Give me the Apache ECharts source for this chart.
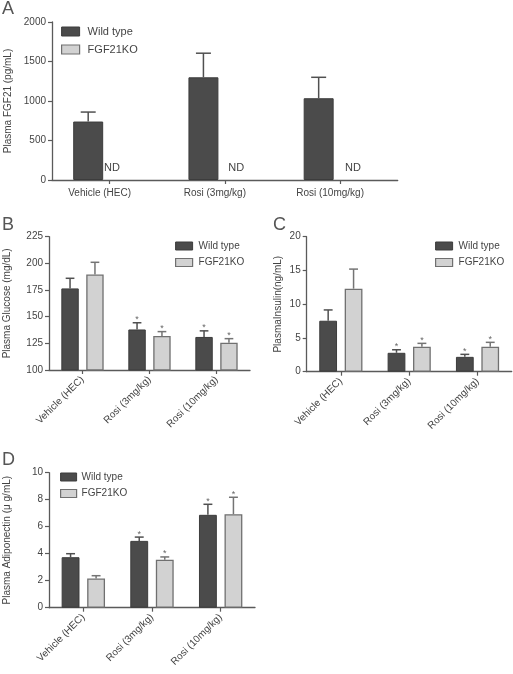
<!DOCTYPE html>
<html>
<head>
<meta charset="utf-8">
<script src="https://cdn.jsdelivr.net/npm/echarts@6/dist/echarts.min.js"></script>
<style>html,body{margin:0;padding:0;background:#fff;}#c{width:513px;height:674px;}</style>
</head>
<body>
<div id="c"></div>
<script>
const categories = ['Vehicle (HEC)', 'Rosi (3mg/kg)', 'Rosi (10mg/kg)'];
const seriesNames = ['Wild type', 'FGF21KO'];

// Panel A: plasma FGF21 (pg/mL); FGF21KO not detected
const fgf21WT = [740, 1300, 1035];
const fgf21WTErr = [120, 305, 265];
const fgf21KOLabel = ['ND', 'ND', 'ND'];

// Panel B: plasma glucose (mg/dL)
const glucoseWT = [176.5, 138, 131];
const glucoseWTErr = [9.5, 6.3, 5.7];
const glucoseKO = [189.5, 132, 125.6];
const glucoseKOErr = [11.5, 4, 3.8];

// Panel C: plasma insulin (ng/mL)
const insulinWT = [7.55, 2.8, 2.2];
const insulinWTErr = [1.6, 0.45, 0.37];
const insulinKO = [12.3, 3.7, 3.7];
const insulinKOErr = [2.9, 0.5, 0.65];

// Panel D: plasma adiponectin (µg/mL)
const adipoWT = [3.74, 4.95, 6.88];
const adipoWTErr = [0.26, 0.28, 0.78];
const adipoKO = [2.17, 3.56, 6.93];
const adipoKOErr = [0.2, 0.2, 1.25];

// significance markers (*) per category
const significant = [false, true, true];

// tick settings
const yA = {min: 0, max: 2000, interval: 500};
const yB = {min: 100, max: 225, interval: 25};
const yC = {min: 0, max: 20, interval: 5};
const yD = {min: 0, max: 10, interval: 2};

const FONT = 'Liberation Sans, Arial, sans-serif';
const AXIS_COLOR = '#5a5a5a';
const TEXT_COLOR = '#444';
const WT_STYLE = {color: '#4b4b4b', borderColor: '#3c3c3c', borderWidth: 1};
const KO_STYLE = {color: '#d2d2d2', borderColor: '#707070', borderWidth: 1.3};
const BAR_W = 0.26, BAR_GAP = 0.43;

const chart = echarts.init(document.getElementById('c'), null, {renderer: 'canvas'});

function xAxisFor(gi, rotate) {
  return {
    type: 'category', gridIndex: gi, data: categories,
    axisLine: {lineStyle: {color: AXIS_COLOR, width: 1.3}},
    axisTick: {show: true, alignWithLabel: true, length: 4, lineStyle: {color: AXIS_COLOR, width: 1.2}},
    axisLabel: rotate ? {rotate: 45, fontSize: 10, color: TEXT_COLOR, fontFamily: FONT, margin: 8, interval: 0}
                      : {fontSize: 10, color: TEXT_COLOR, fontFamily: FONT, margin: 8, interval: 0, padding: [0, 20, 0, 0]}
  };
}
function yAxisFor(gi, r, name, gap) {
  return {
    type: 'value', gridIndex: gi, min: r.min, max: r.max, interval: r.interval,
    name: name, nameLocation: 'middle', nameGap: gap, nameRotate: 90,
    nameTextStyle: {fontSize: 10, color: TEXT_COLOR, fontFamily: FONT},
    splitLine: {show: false},
    axisLine: {show: true, lineStyle: {color: AXIS_COLOR, width: 1.3}},
    axisTick: {show: true, length: 4, lineStyle: {color: AXIS_COLOR, width: 1.2}},
    axisLabel: {fontSize: 10, color: TEXT_COLOR, fontFamily: FONT, margin: 6, formatter: v => String(v)}
  };
}
function barSeries(gi, name, vals, style) {
  return {
    type: 'bar', name: name, xAxisIndex: gi, yAxisIndex: gi, data: vals,
    barWidth: (BAR_W * 100) + '%', barGap: (BAR_GAP * 100) + '%',
    itemStyle: style, emphasis: {disabled: true}, animation: false
  };
}
function errSeries(gi, vals, errs, side, color, stars) {
  return {
    type: 'custom', name: 'err', xAxisIndex: gi, yAxisIndex: gi, z: 5, animation: false, silent: true,
    data: vals.map((v, i) => [i, v, errs[i], stars && significant[i] ? 1 : 0]),
    renderItem: function (params, api) {
      const c = api.value(0), v = api.value(1), e = api.value(2), s = api.value(3);
      const band = api.size([1, 0])[0];
      const w = band * BAR_W, g = w * BAR_GAP;
      const p0 = api.coord([c, v]);
      const p1 = api.coord([c, v + e]);
      const x = p0[0] + side * (w + g) / 2;
      const half = w * 0.25;
      const st = {stroke: color, lineWidth: 1.5};
      const ch = [
        {type: 'line', shape: {x1: x, y1: p0[1], x2: x, y2: p1[1]}, style: st},
        {type: 'line', shape: {x1: x - half, y1: p1[1], x2: x + half, y2: p1[1]}, style: st}
      ];
      if (s) {
        ch.push({type: 'text', style: {text: '*', x: x, y: p1[1] - 3, fill: '#666', fontSize: 9, fontFamily: FONT, align: 'center', verticalAlign: 'middle'}});
      }
      return {type: 'group', children: ch};
    }
  };
}
function legendFor(left, top, iw, ih, gap, fs, padLeft) {
  return {
    left: left, top: top, orient: 'vertical', padding: 0, itemWidth: iw, itemHeight: ih, itemGap: gap,
    selectedMode: false, icon: 'rect',
    textStyle: {fontSize: fs, color: TEXT_COLOR, fontFamily: FONT, padding: [0, 0, 0, padLeft]},
    data: [
      {name: seriesNames[0], itemStyle: {color: WT_STYLE.color, borderColor: WT_STYLE.borderColor, borderWidth: 1}},
      {name: seriesNames[1], itemStyle: {color: KO_STYLE.color, borderColor: KO_STYLE.borderColor, borderWidth: 1.2}}
    ]
  };
}

const ndOffsets = [[-19, 0], [-10, 0], [-8.5, 0]];

const option = {
  animation: false,
  backgroundColor: '#fff',
  textStyle: {fontFamily: FONT},
  grid: [
    {left: 52, top: 22, width: 345.7, height: 158, outerBoundsMode: 'none', containLabel: false},
    {left: 49, top: 236.7, width: 201, height: 133.3, outerBoundsMode: 'none', containLabel: false},
    {left: 306.7, top: 236.7, width: 205, height: 135, outerBoundsMode: 'none', containLabel: false},
    {left: 49, top: 472.7, width: 206, height: 135, outerBoundsMode: 'none', containLabel: false}
  ],
  xAxis: [xAxisFor(0, false), xAxisFor(1, true), xAxisFor(2, true), xAxisFor(3, true)],
  yAxis: [
    yAxisFor(0, yA, 'Plasma FGF21 (pg/mL)', 38),
    yAxisFor(1, yB, 'Plasma Glucose (mg/dL)', 37),
    yAxisFor(2, yC, 'PlasmaInsulin(ng/mL)', 23),
    yAxisFor(3, yD, 'Plasma Adiponectin (μ g/mL)', 37)
  ],
  legend: [
    legendFor(61, 26, 18, 9, 7, 11, 3),
    legendFor(175, 241, 17, 8, 6.5, 10, 1),
    legendFor(435, 241, 17, 8, 6.5, 10, 1),
    legendFor(60, 472, 16, 8, 6.5, 10, 0)
  ],
  graphic: [
    {type: 'text', left: 2, top: 0, style: {text: 'A', fontSize: 18, fill: '#555', fontFamily: FONT}},
    {type: 'text', left: 2, top: 216, style: {text: 'B', fontSize: 18, fill: '#555', fontFamily: FONT}},
    {type: 'text', left: 273, top: 216, style: {text: 'C', fontSize: 18, fill: '#555', fontFamily: FONT}},
    {type: 'text', left: 2, top: 451, style: {text: 'D', fontSize: 18, fill: '#555', fontFamily: FONT}}
  ],
  series: [
    barSeries(0, seriesNames[0], fgf21WT, WT_STYLE),
    {
      type: 'bar', name: 'ND', xAxisIndex: 0, yAxisIndex: 0,
      barWidth: (BAR_W * 100) + '%', barGap: (BAR_GAP * 100) + '%',
      itemStyle: {color: 'rgba(0,0,0,0)', borderWidth: 0}, silent: true,
      data: fgf21KOLabel.map((t, i) => ({value: 0, label: {offset: ndOffsets[i]}})),
      label: {show: true, position: 'top', distance: 7, fontSize: 11, color: TEXT_COLOR, fontFamily: FONT,
              formatter: p => fgf21KOLabel[p.dataIndex]}
    },
    errSeries(0, fgf21WT, fgf21WTErr, -1, '#505050', false),

    barSeries(1, seriesNames[0], glucoseWT, WT_STYLE),
    barSeries(1, seriesNames[1], glucoseKO, KO_STYLE),
    errSeries(1, glucoseWT, glucoseWTErr, -1, '#505050', true),
    errSeries(1, glucoseKO, glucoseKOErr, 1, '#747474', true),

    barSeries(2, seriesNames[0], insulinWT, WT_STYLE),
    barSeries(2, seriesNames[1], insulinKO, KO_STYLE),
    errSeries(2, insulinWT, insulinWTErr, -1, '#505050', true),
    errSeries(2, insulinKO, insulinKOErr, 1, '#747474', true),

    barSeries(3, seriesNames[0], adipoWT, WT_STYLE),
    barSeries(3, seriesNames[1], adipoKO, KO_STYLE),
    errSeries(3, adipoWT, adipoWTErr, -1, '#505050', true),
    errSeries(3, adipoKO, adipoKOErr, 1, '#747474', true)
  ]
};
chart.setOption(option);
</script>
</body>
</html>
